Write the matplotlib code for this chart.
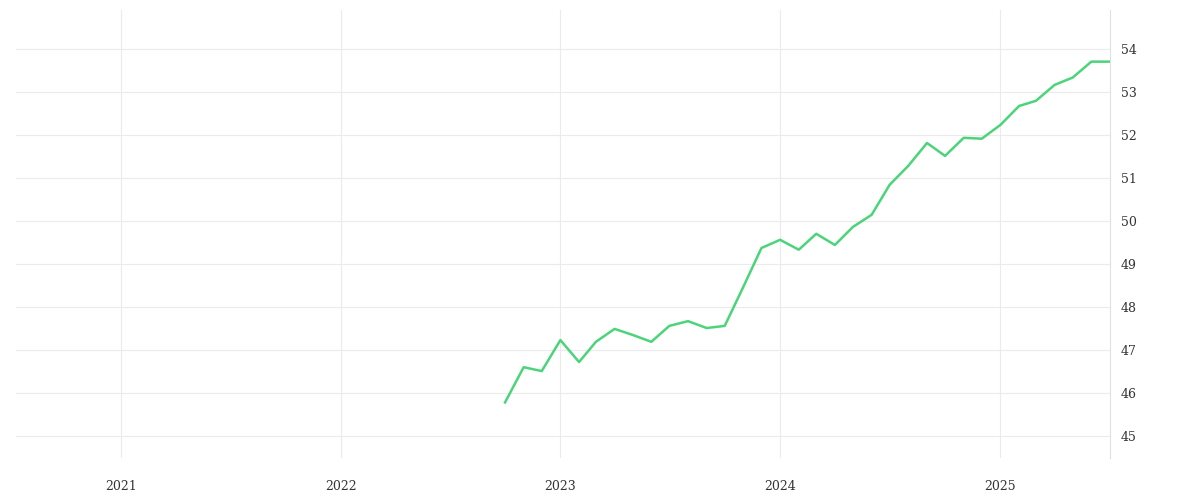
import matplotlib
matplotlib.use("Agg")
import matplotlib.pyplot as plt
import pandas as pd

# monthly values, Oct 2022 .. Jul 2025
start_month = "2022-10-01"
values = [45.78, 46.60, 46.51, 47.23, 46.72, 47.19, 47.49, 47.35, 47.19, 47.56,
          47.67, 47.51, 47.56, 48.47, 49.37, 49.56, 49.33, 49.70, 49.44, 49.86,
          50.14, 50.84, 51.28, 51.81, 51.51, 51.93, 51.91, 52.23, 52.67, 52.79,
          53.16, 53.33, 53.70, 53.70]
year_ticks = ["2021", "2022", "2023", "2024", "2025"]
y_ticks = [45, 46, 47, 48, 49, 50, 51, 52, 53, 54]

dates = pd.date_range(start_month, periods=len(values), freq="MS")

fig = plt.figure(figsize=(12, 5), dpi=100)
ax = fig.add_axes([0.013, 0.084, 0.912, 0.896])
ax.plot(dates, values, color="#4cd47a", lw=1.8)

ax.set_xlim(pd.Timestamp("2020-07-10"), pd.Timestamp("2025-07-02"))
ax.set_ylim(44.49, 54.9)
ax.set_xticks([pd.Timestamp(f"{y}-01-01") for y in year_ticks])
ax.set_xticklabels(year_ticks)
ax.set_yticks(y_ticks)
ax.yaxis.tick_right()
ax.tick_params(length=0, labelsize=9, colors="#333333")
ax.tick_params(axis="x", pad=16)
ax.tick_params(axis="y", pad=8)
for lbl in ax.get_xticklabels() + ax.get_yticklabels():
    lbl.set_family("DejaVu Serif")
ax.grid(True, color="#ebebeb", lw=0.8)
for s in ax.spines.values():
    s.set_visible(False)
ax.spines["right"].set_visible(True)
ax.spines["right"].set_color("#e0e0e0")

fig.savefig("out.png")
